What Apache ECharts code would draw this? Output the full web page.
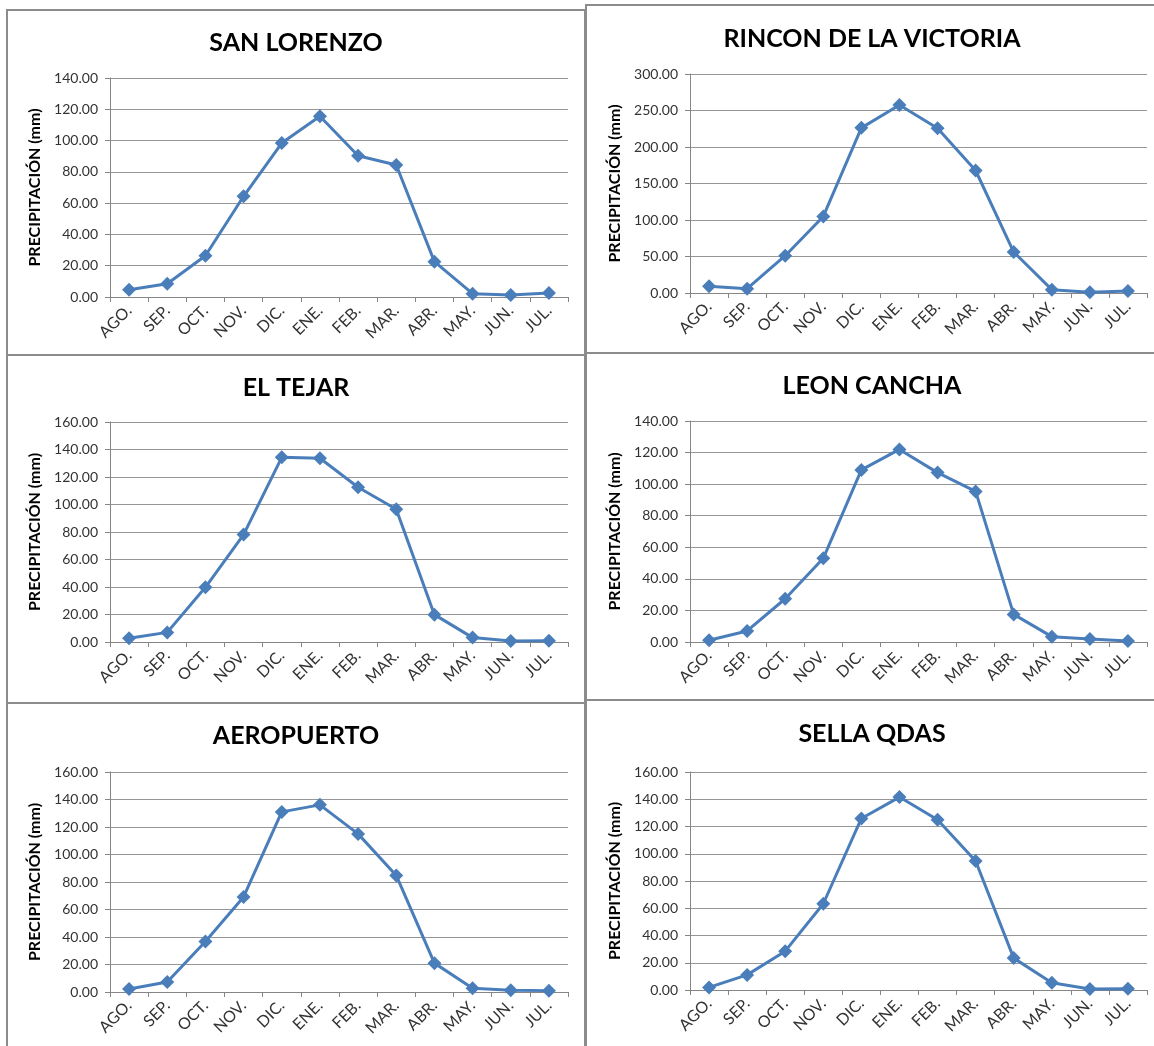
<!DOCTYPE html>
<html>
<head>
<meta charset="utf-8">
<script src="https://cdn.jsdelivr.net/npm/echarts@6/dist/echarts.min.js"></script>
<style>
  body { margin: 0; background: #fff; width: 1154px; height: 1046px; overflow: hidden; position: relative; }
  .panel { position: absolute; border: 2px solid #8c8c8c; box-sizing: border-box; background: #fff; }
</style>
</head>
<body>
<div class="panel" id="p1" style="left:6px;top:9px;width:580px;height:347px"></div>
<div class="panel" id="p2" style="left:585px;top:4px;width:574px;height:350px"></div>
<div class="panel" id="p3" style="left:6px;top:354px;width:580px;height:350px"></div>
<div class="panel" id="p4" style="left:585px;top:352px;width:574px;height:349px"></div>
<div class="panel" id="p5" style="left:6px;top:702px;width:580px;height:350px"></div>
<div class="panel" id="p6" style="left:585px;top:699px;width:574px;height:350px"></div>
<script>
  // meses (año hidrológico)
  var months = ['AGO.', 'SEP.', 'OCT.', 'NOV.', 'DIC.', 'ENE.', 'FEB.', 'MAR.', 'ABR.', 'MAY.', 'JUN.', 'JUL.'];

  // precipitación mensual (mm) por estación
  var sanLorenzo = [4.7, 8.5, 26.4, 64.4, 98.4, 115.5, 90.3, 84.4, 22.6, 2.1, 1.3, 2.6];
  var rinconVictoria = [9.1, 5.9, 51.1, 104.9, 226.2, 257.6, 225.7, 167.8, 56.1, 4.6, 0.9, 2.7];
  var elTejar = [2.7, 7.0, 39.8, 78.1, 134.3, 133.6, 112.5, 96.5, 19.9, 3.2, 0.7, 1.0];
  var leonCancha = [1.1, 7.0, 27.4, 53.0, 109.0, 122.0, 107.3, 95.4, 17.5, 3.4, 1.9, 0.6];
  var aeropuerto = [2.2, 7.3, 36.7, 69.1, 131.0, 136.1, 115.0, 84.8, 21.0, 2.7, 1.2, 1.0];
  var sellaQdas = [1.9, 11.1, 28.5, 63.3, 125.9, 141.6, 125.0, 94.7, 23.4, 5.3, 0.7, 1.0];

  var font = 'Lato, "Open Sans", sans-serif';
  var blue = '#4a7ebb';

  function lineInit(id, title, datos, max, step, grid) {
    var chart = echarts.init(document.getElementById(id));
    chart.setOption({
      animation: false,
      title: {
        text: title,
        left: 'center',
        top: grid.titleTop,
        textStyle: {fontFamily: font, fontWeight: 'bold', fontSize: 25, color: '#000'}
      },
      grid: {left: grid.left, right: grid.right, top: grid.top, bottom: grid.bottom},
      xAxis: {
        type: 'category',
        boundaryGap: true,
        data: months,
        axisLine: {lineStyle: {color: '#868686', width: 1}},
        axisTick: {show: true, length: 5, lineStyle: {color: '#868686'}},
        axisLabel: {
          interval: 0,
          rotate: 45,
          margin: 11,
          fontFamily: font,
          fontSize: 16,
          color: '#333'
        },
        splitLine: {show: false}
      },
      yAxis: {
        type: 'value',
        min: 0,
        max: max,
        interval: step,
        name: 'PRECIPITACIÓN (mm)',
        nameLocation: 'middle',
        nameGap: 65,
        nameTextStyle: {fontFamily: font, fontWeight: 'bold', fontSize: 16, color: '#000'},
        axisLine: {show: true, lineStyle: {color: '#868686', width: 1}},
        axisTick: {show: true, length: 5, lineStyle: {color: '#868686'}},
        axisLabel: {
          fontFamily: font,
          fontSize: 14,
          color: '#333',
          margin: 12,
          formatter: function (v) { return v.toFixed(2); }
        },
        splitLine: {show: true, lineStyle: {color: '#969696', width: 1}}
      },
      series: [{
        type: 'line',
        data: datos,
        symbol: 'diamond',
        symbolSize: 14,
        lineStyle: {color: blue, width: 3},
        itemStyle: {color: blue}
      }]
    });
  }

  lineInit('p1', 'SAN LORENZO', sanLorenzo, 140, 20, {titleTop: 14, left: 102, right: 16, top: 67, bottom: 57});
  lineInit('p2', 'RINCON DE LA VICTORIA', rinconVictoria, 300, 50, {titleTop: 15, left: 103, right: 10, top: 68, bottom: 59});
  lineInit('p3', 'EL TEJAR', elTejar, 160, 20, {titleTop: 14, left: 102, right: 16, top: 66, bottom: 60});
  lineInit('p4', 'LEON CANCHA', leonCancha, 140, 20, {titleTop: 14, left: 103, right: 10, top: 67, bottom: 57});
  lineInit('p5', 'AEROPUERTO', aeropuerto, 160, 20, {titleTop: 14, left: 102, right: 16, top: 68, bottom: 58});
  lineInit('p6', 'SELLA QDAS', sellaQdas, 160, 20, {titleTop: 15, left: 103, right: 10, top: 71, bottom: 57});
</script>
</body>
</html>
